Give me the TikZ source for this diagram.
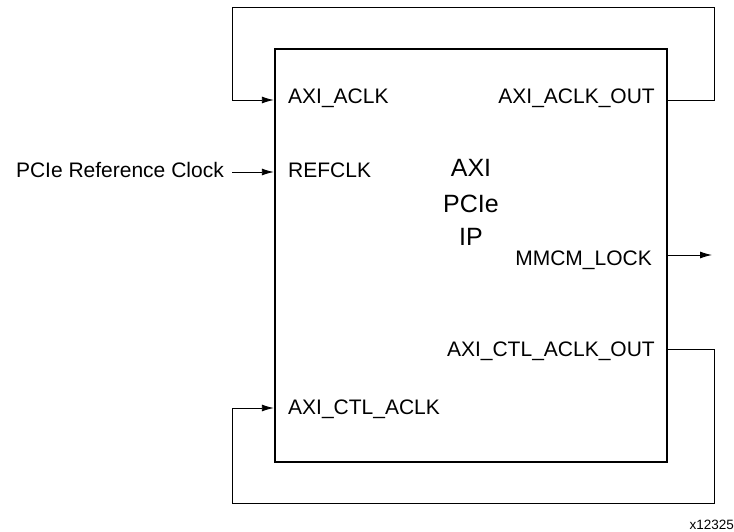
\documentclass[tikz,border=0pt]{standalone}
\usepackage{fontspec}
\setmainfont{Liberation Sans}
\usetikzlibrary{arrows.meta}
\begin{document}
\begin{tikzpicture}[x=1pt,y=-1pt,
  port/.style={font=\fontsize{21}{24}\selectfont, inner sep=0pt},
  title/.style={font=\fontsize{25}{34}\selectfont, inner sep=0pt},
  wire/.style={line width=0.9pt},
  arr/.style={wire,-{Latex[length=12pt,width=7pt]}},
  ipbox/.style={draw, line width=2.4pt, minimum width=392pt, minimum height=413pt, inner sep=0pt}]
\useasboundingbox (0,0) rectangle (734,532);
\node[ipbox] (ip) at (471,255.5) {};
\node[title, anchor=base] (t1) at (471,177) {AXI};
\node[title, anchor=base] (t2) at (471,212) {PCIe};
\node[title, anchor=base] (t3) at (471,245) {IP};
% ports
\coordinate (pa) at (ip.west |- 0,100);
\coordinate (pr) at (ip.west |- 0,172);
\coordinate (pc) at (ip.west |- 0,408);
\coordinate (pao) at (ip.east |- 0,100);
\coordinate (pm) at (ip.east |- 0,255);
\coordinate (pco) at (ip.east |- 0,349);
\node[port, anchor=base west] (laxi) at (288,104) {AXI\_ACLK};
\node[port, anchor=base west] (lref) at (288,178) {REFCLK};
\node[port, anchor=base west] (lctl) at (288,414) {AXI\_CTL\_ACLK};
\node[port, anchor=base east] (laxo) at (655,104) {AXI\_ACLK\_OUT};
\node[port, anchor=base east] (lmm) at (652,265) {MMCM\_LOCK};
\node[port, anchor=base east] (lcto) at (655,356) {AXI\_CTL\_ACLK\_OUT};
\node[port, anchor=base east] (pcie) at (224,178) {PCIe Reference Clock};
\node[font=\fontsize{13.5}{15}\selectfont, anchor=base east, inner sep=0pt] (fig) at (734,529) {x12325};
\coordinate (rin) at (232,172);
\coordinate (mmend) at (712,255);
% connectors
\draw[arr] (pao) -- (714,100) -- (714,7) -- (232,7) -- (232,100) -- (pa);
\draw[arr] (rin) -- (pr);
\draw[arr] (pm) -- (mmend);
\draw[arr] (pco) -- (714,349) -- (714,503) -- (232,503) -- (232,408) -- (pc);
\end{tikzpicture}
\end{document}
